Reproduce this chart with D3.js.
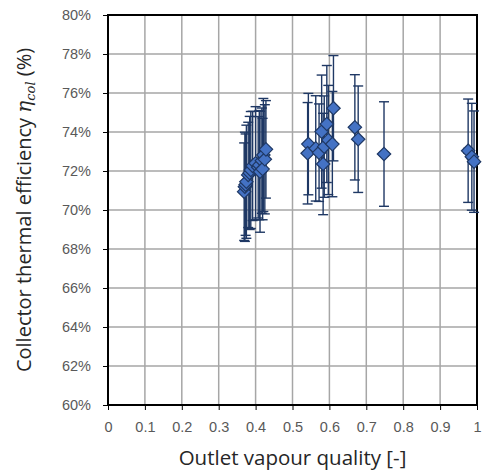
<!DOCTYPE html>
<html>
<head>
<meta charset="utf-8">
<script src="https://cdn.jsdelivr.net/npm/d3@7"></script>
<style>
  body { margin: 0; background: #fff; }
  svg { display: block; font-family: "Open Sans", sans-serif; }
</style>
</head>
<body>
<svg id="chart"></svg>
<script>
// outlet vapour quality [-]
const quality = [
  0.369, 0.371, 0.373, 0.375, 0.380, 0.384, 0.387, 0.392, 0.400, 0.407, 0.410, 0.412, 0.417, 0.419, 0.421, 0.425, 0.428,
  0.543, 0.541, 0.563, 0.572, 0.579, 0.583, 0.586, 0.593, 0.597, 0.608, 0.611,
  0.669, 0.678, 0.748,
  0.976, 0.986, 0.992
];
// collector thermal efficiency [%]
const efficiency = [
  70.94, 71.19, 71.3, 71.45, 71.8, 71.9, 72.05, 72.26, 72.4, 72.19, 72.3, 71.96, 72.53, 72.1, 72.82, 72.6, 73.11,
  73.38, 72.91, 73.16, 72.94, 74.02, 72.36, 73.25, 74.41, 73.59, 73.38, 75.22,
  74.24, 73.63, 72.87,
  73.04, 72.73, 72.48
];
// error bar half-widths
const effErr = [
  2.5, 2.8, 2.6, 2.9, 2.7, 2.9, 3.0, 2.8, 2.9, 2.6, 2.8, 3.1, 2.7, 2.6, 2.9, 2.8, 2.5,
  2.6, 2.6, 2.7, 2.5, 2.9, 2.6, 2.6, 3.0, 2.8, 2.7, 2.7,
  2.7, 2.73, 2.68,
  2.65, 2.74, 2.6
];
const qualErr = [
  0.006, 0.006, 0.006, 0.006, 0.006, 0.006, 0.006, 0.006, 0.006, 0.006, 0.006, 0.006, 0.006, 0.006, 0.006, 0.006, 0.006,
  0.008, 0.008, 0.008, 0.008, 0.008, 0.008, 0.008, 0.008, 0.008, 0.008, 0.008,
  0.009, 0.009, 0.01,
  0.012, 0.012, 0.012
];
const xTicks = [0, 0.1, 0.2, 0.3, 0.4, 0.5, 0.6, 0.7, 0.8, 0.9, 1];
const yTicks = [60, 62, 64, 66, 68, 70, 72, 74, 76, 78, 80];

const width = 482;
const height = 472;
const margin = { top: 15, right: 5, bottom: 67, left: 108 };

const svg = d3.select("#chart").attr("width", width).attr("height", height);

const x = d3.scaleLinear().domain([0, 1]).range([margin.left, width - margin.right]);
const y = d3.scaleLinear().domain([60, 80]).range([height - margin.bottom, margin.top]);

const points = quality.map((q, i) => ({ q, e: efficiency[i], de: effErr[i], dq: qualErr[i] }));

// gridlines
svg.append("g")
  .selectAll("line")
  .data(xTicks.slice(1, -1))
  .join("line")
  .attr("x1", (d) => x(d)).attr("x2", (d) => x(d))
  .attr("y1", y(80)).attr("y2", y(60))
  .attr("stroke", "#a6a6a6").attr("stroke-width", 1.5);

svg.append("g")
  .selectAll("line")
  .data(yTicks.slice(1, -1))
  .join("line")
  .attr("x1", x(0)).attr("x2", x(1))
  .attr("y1", (d) => y(d)).attr("y2", (d) => y(d))
  .attr("stroke", "#a6a6a6").attr("stroke-width", 1.5);

// axes
const xAxis = d3.axisBottom(x).tickValues(xTicks).tickFormat((d) => d3.format("")(d)).tickSize(5).tickPadding(12);
const yAxis = d3.axisLeft(y).tickValues(yTicks).tickFormat((d) => d + "%").tickSize(5).tickPadding(12);

const gx = svg.append("g").attr("transform", "translate(0," + y(60) + ")").call(xAxis);
const gy = svg.append("g").attr("transform", "translate(" + x(0) + ",0)").call(yAxis);

[gx, gy].forEach((g) => {
  g.select(".domain").remove();
  g.selectAll(".tick line").attr("stroke", "#000").attr("stroke-width", 1);
  g.selectAll(".tick text").attr("fill", "#595959").style("font-size", "14.5px");
});

// frame
svg.append("rect")
  .attr("x", x(0)).attr("y", y(80))
  .attr("width", x(1) - x(0)).attr("height", y(60) - y(80))
  .attr("fill", "none").attr("stroke", "#000").attr("stroke-width", 2);

// error bars
const bars = svg.append("g").attr("stroke", "#1f3864").attr("stroke-width", 1.4);
const cap = 5;

bars.selectAll(".vbar")
  .data(points)
  .join("line")
  .attr("x1", (d) => x(d.q)).attr("x2", (d) => x(d.q))
  .attr("y1", (d) => y(d.e + d.de)).attr("y2", (d) => y(d.e - d.de));

bars.selectAll(".vcap")
  .data(points.flatMap((d) => [{ q: d.q, v: d.e + d.de }, { q: d.q, v: d.e - d.de }]))
  .join("line")
  .attr("x1", (d) => x(d.q) - cap).attr("x2", (d) => x(d.q) + cap)
  .attr("y1", (d) => y(d.v)).attr("y2", (d) => y(d.v));

bars.selectAll(".hbar")
  .data(points)
  .join("line")
  .attr("x1", (d) => x(d.q - d.dq)).attr("x2", (d) => x(d.q + d.dq))
  .attr("y1", (d) => y(d.e)).attr("y2", (d) => y(d.e));

bars.selectAll(".hcap")
  .data(points.flatMap((d) => [{ v: d.q - d.dq, e: d.e }, { v: d.q + d.dq, e: d.e }]))
  .join("line")
  .attr("x1", (d) => x(d.v)).attr("x2", (d) => x(d.v))
  .attr("y1", (d) => y(d.e) - 3).attr("y2", (d) => y(d.e) + 3);

// diamond markers
const diamond = d3.symbol().type(d3.symbolDiamond2).size(115);
svg.append("g")
  .selectAll("path")
  .data(points)
  .join("path")
  .attr("d", diamond)
  .attr("transform", (d) => "translate(" + x(d.q) + "," + y(d.e) + ")")
  .attr("fill", "#4472c4")
  .attr("stroke", "#1f3864")
  .attr("stroke-width", 1.2);

// axis titles
svg.append("text")
  .attr("x", (x(0) + x(1)) / 2)
  .attr("y", 465)
  .attr("text-anchor", "middle")
  .attr("fill", "#262626")
  .style("font-size", "20.5px")
  .text("Outlet vapour quality [-]");

const yt = svg.append("text")
  .attr("transform", "translate(31," + (y(70)) + ") rotate(-90)")
  .attr("text-anchor", "middle")
  .attr("fill", "#262626")
  .style("font-size", "20px");
yt.append("tspan").text("Collector thermal efficiency ");
yt.append("tspan").attr("font-family", "DejaVu Serif, serif").attr("font-style", "italic").text("η");
yt.append("tspan").attr("font-family", "DejaVu Serif, serif").attr("font-style", "italic")
  .style("font-size", "13px").attr("dy", 4).text("col");
yt.append("tspan").attr("dy", -4).text(" (%)");
</script>
</body>
</html>
